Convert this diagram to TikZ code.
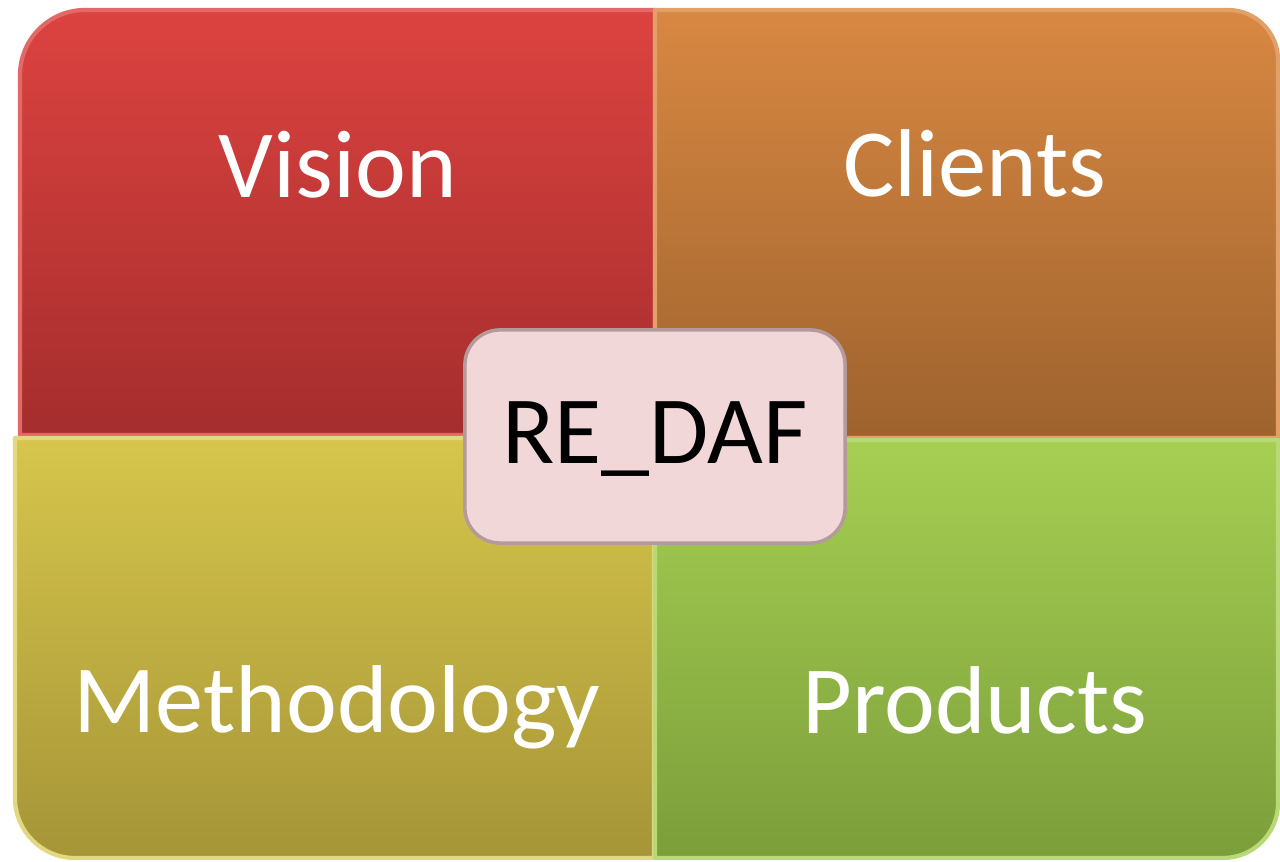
\documentclass[tikz,border=0pt]{standalone}
\usepackage{fontspec}
\setmainfont{Carlito}
\usepackage{tikz}
\usetikzlibrary{positioning}

\definecolor{visiontop}{HTML}{DC4340}
\definecolor{visionbot}{HTML}{A52D2D}
\definecolor{clienttop}{HTML}{D88842}
\definecolor{clientbot}{HTML}{9E632E}
\definecolor{methodtop}{HTML}{D6C64C}
\definecolor{methodbot}{HTML}{A69537}
\definecolor{producttop}{HTML}{A6CF52}
\definecolor{productbot}{HTML}{7C9E3B}
\definecolor{corefill}{HTML}{F2D7D9}
\definecolor{coreedge}{HTML}{B59A9C}

\begin{document}
\begin{tikzpicture}[
            x=0.01cm, y=0.01cm,
            quad/.style={line width=1.2pt, line join=round},
            label/.style={anchor=base, text=white, font=\fontsize{27.4}{31}\selectfont},
            core/.style={rectangle, rounded corners=0.35cm, fill=corefill, draw=coreedge, line width=1pt,
                         minimum width=3.8cm, minimum height=2.13cm, anchor=center}
        ]
            \useasboundingbox (0,0) rectangle (1280,861);

% Quadrants
            \shade[quad, top color=visiontop, bottom color=visionbot, draw=visiontop!80!white]
                (20,426) -- (20,786) arc[start angle=180, end angle=90, radius=65] -- (655,851) -- (655,426) -- cycle;
            \shade[quad, top color=clienttop, bottom color=clientbot, draw=clienttop!80!white]
                (655,423) -- (655,851) -- (1228,851) arc[start angle=90, end angle=0, radius=50] -- (1278,423) -- cycle;
            \shade[quad, top color=methodtop, bottom color=methodbot, draw=methodtop!70!white]
                (15,423) -- (654,423) -- (654,3) -- (75,3) arc[start angle=270, end angle=180, radius=60] -- cycle;
            \shade[quad, top color=producttop, bottom color=productbot, draw=producttop!80!white]
                (655,421) -- (1278,421) -- (1278,58) arc[start angle=0, end angle=-90, radius=55] -- (655,3) -- cycle;

% Labels
            \node[label] (vision) at (338,663) {Vision};
            \node[label] (clients) at (975,664) {Clients};
            \node[label] (method) at (337,129) {Methodology};
            \node[label] (products) at (975,128) {Products};

% Centre box
            \node[core] (redaf) at (655,424.5) {};
            \node[anchor=base, font=\fontsize{27.4}{31}\selectfont] (redaftext) at (655,397) {RE\_DAF};

        \end{tikzpicture}
\end{document}
